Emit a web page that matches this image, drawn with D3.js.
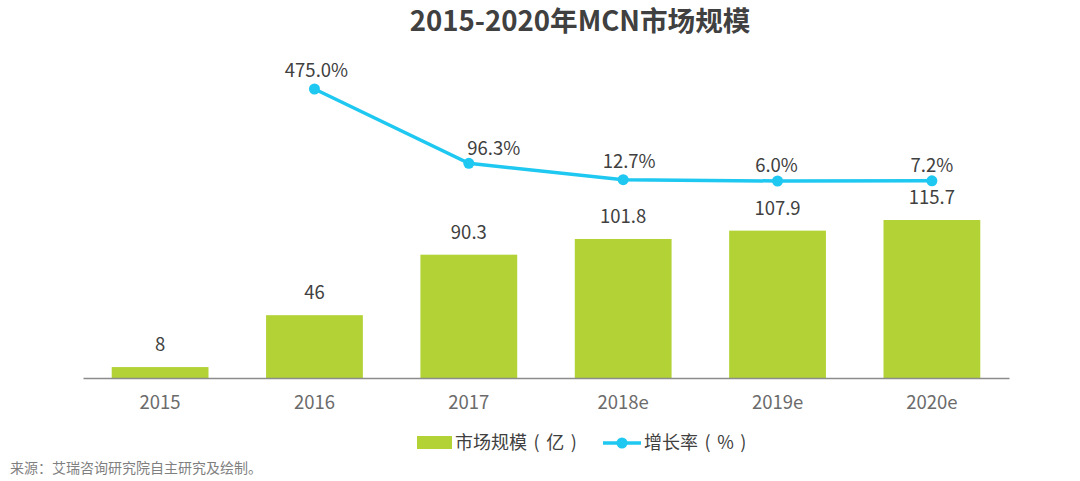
<!DOCTYPE html>
<html><head><meta charset="utf-8">
<script src="https://cdn.jsdelivr.net/npm/d3@7"></script>
<style>html,body{margin:0;padding:0;background:#fff}svg{display:block}</style></head>
<body><svg id="c" width="1080" height="481"></svg>
<script>
const categories=["2015","2016","2017","2018e","2019e","2020e"];
const barValues=[8,46,90.3,101.8,107.9,115.7];
const barLabels=["8","46","90.3","101.8","107.9","115.7"];
const growthValues=[null,475.0,96.3,12.7,6.0,7.2];
const growthLabels=["","475.0%","96.3%","12.7%","6.0%","7.2%"];
const title="2015-2020年MCN市场规模";
const source="来源：艾瑞咨询研究院自主研究及绘制。";
const font="'Noto Sans CJK SC','Noto Sans',sans-serif";
const gdx=[0,2,25,6,-1,0], gdy=[0,-12,-8,-12,-9,-9];
const svg=d3.select("#c");
const x=d3.scaleBand().domain(categories).range([83,1009]).paddingInner(0.373).paddingOuter(0.186);
const y=d3.scaleLinear().domain([0,115.7]).range([378,220]);
const yl=d3.scaleLinear().domain([6,475]).range([181,89]);
svg.append("text").attr("x",580).attr("y",31).attr("text-anchor","middle").attr("font-family",font).attr("font-weight",700).attr("font-size",27.6).attr("fill","#404040").text(title);
svg.selectAll("rect.b").data(barValues).join("rect").attr("class","b").attr("x",(d,i)=>x(categories[i])).attr("width",x.bandwidth()).attr("y",d=>y(d)).attr("height",d=>378-y(d)).attr("fill","#b2d235");
svg.append("g").attr("transform","translate(0,378)").call(d3.axisBottom(x).tickSize(0).tickPadding(18)).call(g=>{g.select(".domain").attr("stroke","#8c8c8c").attr("stroke-width",1.5);g.selectAll("text").attr("font-family",font).attr("font-size",18.5).attr("fill","#6b6b6b")});
svg.selectAll("text.bl").data(barLabels).join("text").attr("class","bl").attr("x",(d,i)=>x(categories[i])+x.bandwidth()/2).attr("y",(d,i)=>y(barValues[i])-16).attr("text-anchor","middle").attr("font-family",font).attr("font-size",18.5).attr("fill","#404040").text(d=>d);
const pts=categories.map((c,i)=>({c,v:growthValues[i],l:growthLabels[i],i})).filter(d=>d.v!=null);
const cx=d=>x(d.c)+x.bandwidth()/2;
svg.append("path").datum(pts).attr("fill","none").attr("stroke","#1fc8f0").attr("stroke-width",3.5).attr("d",d3.line().x(cx).y(d=>yl(d.v)));
svg.selectAll("circle.p").data(pts).join("circle").attr("class","p").attr("cx",cx).attr("cy",d=>yl(d.v)).attr("r",5.5).attr("fill","#1fc8f0");
svg.selectAll("text.gl").data(pts).join("text").attr("class","gl").attr("x",d=>cx(d)+gdx[d.i]).attr("y",d=>yl(d.v)+gdy[d.i]).attr("text-anchor","middle").attr("font-family",font).attr("font-size",18.5).attr("fill","#404040").text(d=>d.l);
svg.append("rect").attr("x",417).attr("y",436).attr("width",35).attr("height",13).attr("fill","#b2d235");
svg.append("text").attr("x",455).attr("y",449).attr("font-family",font).attr("font-size",18).attr("fill","#404040").attr("word-spacing",2.5).text("市场规模 ( 亿 )");
svg.append("line").attr("x1",603).attr("x2",641).attr("y1",443).attr("y2",443).attr("stroke","#1fc8f0").attr("stroke-width",3.5);
svg.append("circle").attr("cx",622).attr("cy",443).attr("r",5.5).attr("fill","#1fc8f0");
svg.append("text").attr("x",644).attr("y",449).attr("font-family",font).attr("font-size",18).attr("fill","#404040").attr("word-spacing",2.5).text("增长率 ( % )");
svg.append("text").attr("x",10).attr("y",473).attr("font-family",font).attr("font-size",14).attr("fill","#7f7f7f").text(source);
</script></body></html>
